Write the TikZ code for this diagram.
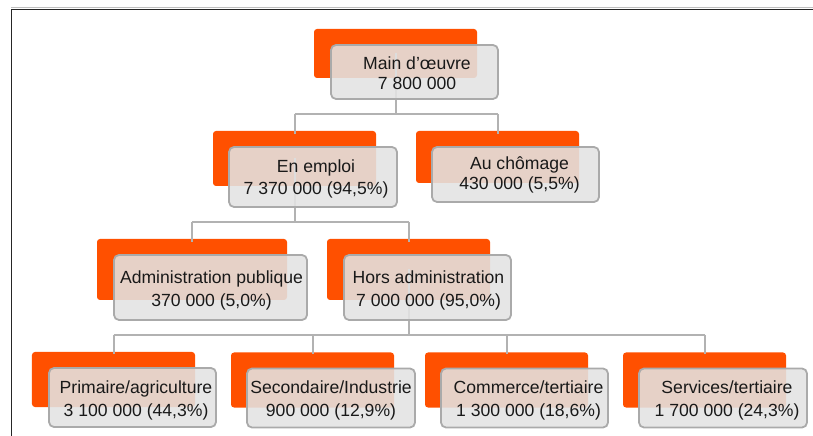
\documentclass[tikz,border=0pt]{standalone}
\usepackage{fontspec}
\setmainfont{Liberation Sans}
\definecolor{orng}{RGB}{255,80,0}
\definecolor{gfill}{RGB}{227,227,227}
\definecolor{gline}{RGB}{170,170,170}
\definecolor{cline}{RGB}{178,178,178}
\begin{document}
\begin{tikzpicture}[x=1bp,y=-1bp,
  obox/.style={draw=none,fill=orng,rounded corners=3bp,inner sep=0pt},
  gbox/.style={draw=gline,line width=1.8bp,fill=gfill,fill opacity=0.88,rounded corners=5bp,inner sep=0pt},
  txt/.style={align=center,inner sep=0pt,text=black!90,font=\fontsize{17.6bp}{22bp}\selectfont},
  conn/.style={draw=cline,line width=2bp}]
\useasboundingbox (0,0) rectangle (813,436);
% frame
\draw[black!25,line width=1bp] (11,7.8) -- (813,7.8);
\draw[black!85,line width=1.3bp] (11.5,436) -- (11.5,9.5) -- (813,9.5);

% orange boxes
\node[obox,minimum width=163bp,minimum height=49bp] (o1) at (395.5,53.5) {};
\node[obox,minimum width=163bp,minimum height=55bp] (o2) at (294.5,158.5) {};
\node[obox,minimum width=163bp,minimum height=52bp] (o3) at (497.5,157) {};
\node[obox,minimum width=190bp,minimum height=61bp] (o4) at (192,269.5) {};
\node[obox,minimum width=163bp,minimum height=61bp] (o5) at (408.5,269.5) {};
\node[obox,minimum width=163bp,minimum height=55bp] (o6) at (113.5,379.5) {};
\node[obox,minimum width=163bp,minimum height=55bp] (o7) at (312.5,380) {};
\node[obox,minimum width=163bp,minimum height=55bp] (o8) at (506.5,380) {};
\node[obox,minimum width=163bp,minimum height=55bp] (o9) at (704.5,380) {};

% connector coordinates
\coordinate (h1) at (0,114);
\coordinate (h2) at (0,222);
\coordinate (h3) at (0,335);
% connectors (behind gray boxes)
\draw[conn] (o1.center) -- (o1.center |- h1);
\draw[conn] (o2.center |- h1) -- (o3.center |- h1);
\draw[conn] (o2.center |- h1) -- ([yshift=-3bp]o2.north);
\draw[conn] (o3.center |- h1) -- ([yshift=-3bp]o3.north);
\draw[conn] (o2.center) -- (o2.center |- h2);
\draw[conn] (o4.center |- h2) -- (o5.center |- h2);
\draw[conn] (o4.center |- h2) -- ([yshift=-3bp]o4.north);
\draw[conn] (o5.center |- h2) -- ([yshift=-3bp]o5.north);
\draw[conn] (o5.center) -- (o5.center |- h3);
\draw[conn] (o6.center |- h3) -- (o9.center |- h3);
\draw[conn] (o6.center |- h3) -- ([yshift=-2bp]o6.north);
\draw[conn] (o7.center |- h3) -- ([yshift=-2bp]o7.north);
\draw[conn] (o8.center |- h3) -- ([yshift=-2bp]o8.north);
\draw[conn] (o9.center |- h3) -- ([yshift=-2bp]o9.north);

% gray boxes
\node[gbox,minimum width=167bp,minimum height=54bp] (g1) at (414.5,72) {};
\node[gbox,minimum width=168bp,minimum height=60bp] (g2) at (313,177) {};
\node[gbox,minimum width=167bp,minimum height=55bp] (g3) at (515.5,174.5) {};
\node[gbox,minimum width=193bp,minimum height=65bp] (g4) at (210.5,287.5) {};
\node[gbox,minimum width=167bp,minimum height=65bp] (g5) at (427.5,287.5) {};
\node[gbox,minimum width=167bp,minimum height=59bp] (g6) at (132.5,397.5) {};
\node[gbox,minimum width=168bp,minimum height=59bp] (g7) at (331,398) {};
\node[gbox,minimum width=167bp,minimum height=59bp] (g8) at (524.5,398) {};
\node[gbox,minimum width=168bp,minimum height=59bp] (g9) at (723,398) {};

% texts
\node[txt,font=\fontsize{17.6bp}{20bp}\selectfont] (t1) at ([shift={(2.5,1)}]g1.center) {Main d’œuvre\\7 800 000};
\node[txt] (t2) at ([shift={(3,2)}]g2.center) {En emploi\\7 370 000 (94,5\%)};
\node[txt,font=\fontsize{17.6bp}{20bp}\selectfont] (t3) at ([shift={(4,0.5)}]g3.center) {Au chômage\\430 000 (5,5\%)};
\node[txt,font=\fontsize{17.6bp}{23bp}\selectfont] (t4) at ([shift={(1,3)}]g4.center) {Administration publique\\370 000 (5,0\%)};
\node[txt,font=\fontsize{17.6bp}{23bp}\selectfont] (t5) at ([shift={(1,3)}]g5.center) {Hors administration\\7 000 000 (95,0\%)};
\node[txt,font=\fontsize{17.6bp}{23bp}\selectfont] (t6) at ([shift={(3.5,3)}]g6.center) {Primaire/agriculture\\3 100 000 (44,3\%)};
\node[txt,font=\fontsize{17.6bp}{23bp}\selectfont] (t7) at ([shift={(0,2.5)}]g7.center) {Secondaire/Industrie\\900 000 (12,9\%)};
\node[txt,font=\fontsize{17.6bp}{23bp}\selectfont] (t8) at ([shift={(4,2.5)}]g8.center) {Commerce/tertiaire\\1 300 000 (18,6\%)};
\node[txt,font=\fontsize{17.6bp}{23bp}\selectfont] (t9) at ([shift={(4,2.5)}]g9.center) {Services/tertiaire\\1 700 000 (24,3\%)};
\end{tikzpicture}
\end{document}
